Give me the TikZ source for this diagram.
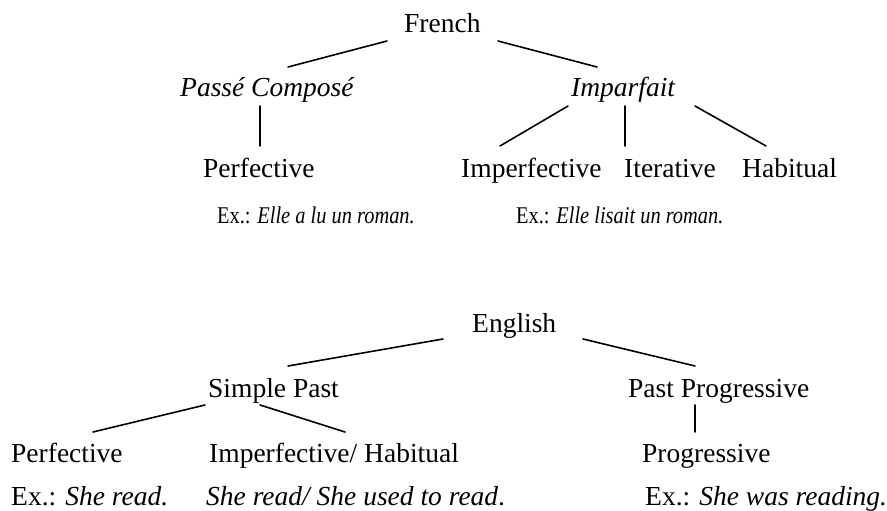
\documentclass[tikz,border=0pt]{standalone}
\usepackage{fontspec}
\setmainfont{Liberation Serif}
\usepackage{graphicx}
\begin{document}
\begin{tikzpicture}[x=1pt,y=-1pt,
  lbl/.style={inner sep=0pt, anchor=base west, font=\fontsize{27.5}{33}\selectfont},
  exf/.style={inner sep=0pt, anchor=base west, font=\fontsize{24}{28}\selectfont},
  edge/.style={line width=1.6pt, line cap=round}]
\useasboundingbox (0,0) rectangle (887,511);
% ---------- French tree ----------
\node[lbl] (fr)    at (404,33)  {French};
\node[lbl] (pc)    at (180,97)  {\textit{Passé Composé}};
\node[lbl] (imp)   at (571,97)  {\textit{Imparfait}};
\node[lbl] (perf1) at (203,177) {Perfective};
\node[lbl] (impf1) at (461,177) {Imperfective};
\node[lbl] (iter)  at (624,177) {Iterative};
\node[lbl] (hab)   at (742,177) {Habitual};
\node[exf] (ex1)   at (217,223) {\scalebox{0.85}[1]{Ex.: \textit{Elle a lu un roman.}}};
\node[exf] (ex2)   at (516,223) {\scalebox{0.85}[1]{Ex.: \textit{Elle lisait un roman.}}};
\coordinate (frL) at (387,41);  \coordinate (pcT) at (288,67);
\coordinate (frR) at (498,41);  \coordinate (impT) at (597,67);
\coordinate (pcB) at (260,106); \coordinate (perf1T) at (260,146);
\coordinate (impB1) at (568,106); \coordinate (impf1T) at (500,146);
\coordinate (impB2) at (625,106); \coordinate (iterT) at (625,146);
\coordinate (impB3) at (695,106); \coordinate (habT) at (766,146);
\draw[edge] (frL) -- (pcT);
\draw[edge] (frR) -- (impT);
\draw[edge] (pcB) -- (perf1T);
\draw[edge] (impB1) -- (impf1T);
\draw[edge] (impB2) -- (iterT);
\draw[edge] (impB3) -- (habT);
% ---------- English tree ----------
\node[lbl] (en)    at (472,332) {English};
\node[lbl] (sp)    at (208,397) {Simple Past};
\node[lbl] (pp)    at (628,397) {Past Progressive};
\node[lbl] (perf2) at (11,462)  {Perfective};
\node[lbl] (ih)    at (209,462) {Imperfective/ Habitual};
\node[lbl] (prog)  at (642,462) {Progressive};
\node[lbl] (ex3)   at (11,505)  {Ex.: \textit{She read.}};
\node[lbl] (ex4)   at (206,505) {\textit{She read/ She used to read}.};
\node[lbl] (ex5)   at (645,505) {Ex.: \textit{She was reading.}};
\coordinate (enL) at (443,339); \coordinate (spT) at (288,366);
\coordinate (enR) at (583,339); \coordinate (ppT) at (695,366);
\coordinate (spB1) at (205,405); \coordinate (perf2T) at (93,432);
\coordinate (spB2) at (260,405); \coordinate (ihT) at (345,432);
\coordinate (ppB) at (695,405);  \coordinate (progT) at (695,432);
\draw[edge] (enL) -- (spT);
\draw[edge] (enR) -- (ppT);
\draw[edge] (spB1) -- (perf2T);
\draw[edge] (spB2) -- (ihT);
\draw[edge] (ppB) -- (progT);
\end{tikzpicture}
\end{document}
